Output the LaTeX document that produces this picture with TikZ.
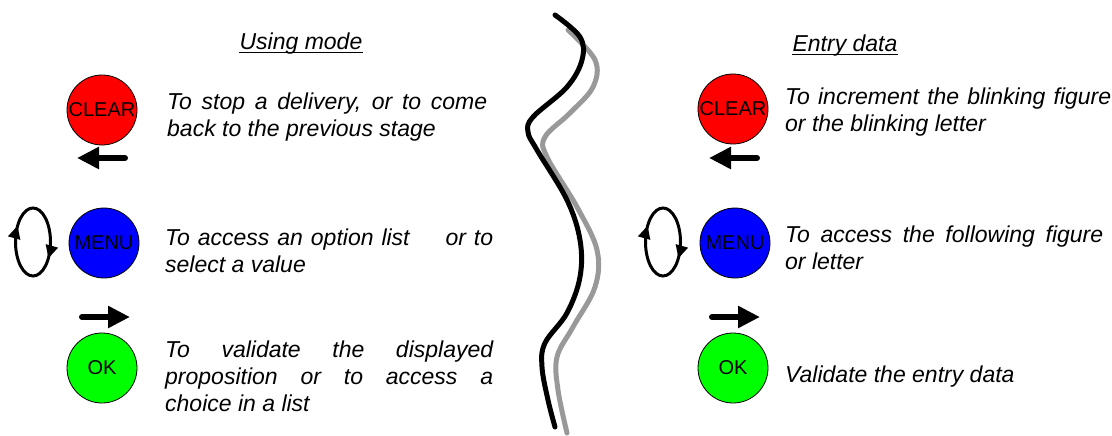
\documentclass[tikz,border=0pt]{standalone}
\usepackage{fontspec}
\usepackage{xcolor}
\setmainfont{Liberation Sans}
\usetikzlibrary{arrows.meta,decorations.markings}
\definecolor{btnred}{HTML}{FF0000}
\definecolor{btnblue}{HTML}{0000FF}
\definecolor{btngreen}{HTML}{00FF00}
\definecolor{wavegray}{HTML}{999999}
\hyphenpenalty=10000
\exhyphenpenalty=10000

\begin{document}
\begin{tikzpicture}[
            x=1pt, y=-1pt,
            button/.style={circle, draw, line width=0.8pt, minimum size=70pt, inner sep=0pt,
                font=\fontsize{20}{24}\selectfont},
            desc/.style={anchor=base west, inner sep=0pt, align=justify,
                font=\itshape\fontsize{23}{27}\selectfont},
            title/.style={anchor=base, inner sep=0pt, font=\itshape\fontsize{23}{27}\selectfont},
            fatarrow/.style={line width=6pt, line cap=round, -{Triangle[length=22pt,width=21pt]}},
            loop/.style={line width=3pt, postaction={decorate}, decoration={markings,
                mark=at position 0.1 with {\arrow{Triangle[length=13pt,width=12pt]}},
                mark=at position 0.6 with {\arrow{Triangle[length=13pt,width=12pt]}}}}
        ]
            \useasboundingbox (0,0) rectangle (1112,436);

            % separator
            \draw[wavegray, line width=5pt, line cap=round] plot[smooth, tension=0.6] coordinates {
                (568,30) (595,60) (593,87) (570,113) (545,137) (547,157) (577,207)
                (597,250) (595,287) (573,327) (557,357) (558,390) (567,433)};
            \draw[black, line width=5pt, line cap=round] plot[smooth, tension=0.6] coordinates {
                (555,15) (580,37) (582,60) (567,87) (533,117) (528,132) (537,150) (567,200)
                (580,240) (580,277) (567,313) (545,343) (542,367) (548,400) (555,427)};

            % using mode
            \node[title] (useT) at (301,50) {Using mode};
            \draw[line width=1pt] ([yshift=-3pt]useT.base west) -- ([yshift=-3pt]useT.base east);
            \node[button, fill=btnred] (clearL) at (102,110) {CLEAR};
            \node[button, fill=btnblue] (menuL) at (104,243) {MENU};
            \node[button, fill=btngreen] (okL) at (102,368) {OK};

            \node[desc, text width=320pt] (clearLT) at (167,110)
                {To stop a delivery, or to come\linebreak back to the previous stage};
            \node[desc, text width=328pt] (menuLT) at (165,245)
                {To access an option list\hspace{28pt} or to\linebreak select a value};
            \node[desc, text width=328pt] (okLT) at (165,357)
                {To validate the displayed\linebreak proposition or to access a\linebreak choice in a list};

            \coordinate (backL) at (125,158);
            \coordinate (nextL) at (82,317);
            \draw[fatarrow] (backL) -- ++(-48,0);
            \draw[fatarrow] (nextL) -- ++(48,0);
            \draw[loop] (33,242) ellipse [x radius=17.5, y radius=34];

            % entry data
            \node[title] (entryT) at (845,52) {Entry data};
            \draw[line width=1pt] ([yshift=-3pt]entryT.base west) -- ([yshift=-3pt]entryT.base east);
            \node[button, fill=btnred] (clearR) at (733,109) {CLEAR};
            \node[button, fill=btnblue] (menuR) at (735,243) {MENU};
            \node[button, fill=btngreen] (okR) at (733,368) {OK};

            \node[desc, text width=326pt] (clearRT) at (785,105)
                {To increment the blinking figure\linebreak or the blinking letter};
            \node[desc, text width=318pt] (menuRT) at (785,242)
                {To access the following figure\linebreak or letter};
            \node[desc, text width=318pt] (okRT) at (785,382)
                {Validate the entry data};

            \coordinate (backR) at (757,158);
            \coordinate (nextR) at (712,317);
            \draw[fatarrow] (backR) -- ++(-48,0);
            \draw[fatarrow] (nextR) -- ++(48,0);
            \draw[loop] (663,242) ellipse [x radius=17.5, y radius=34];
        \end{tikzpicture}
\end{document}
